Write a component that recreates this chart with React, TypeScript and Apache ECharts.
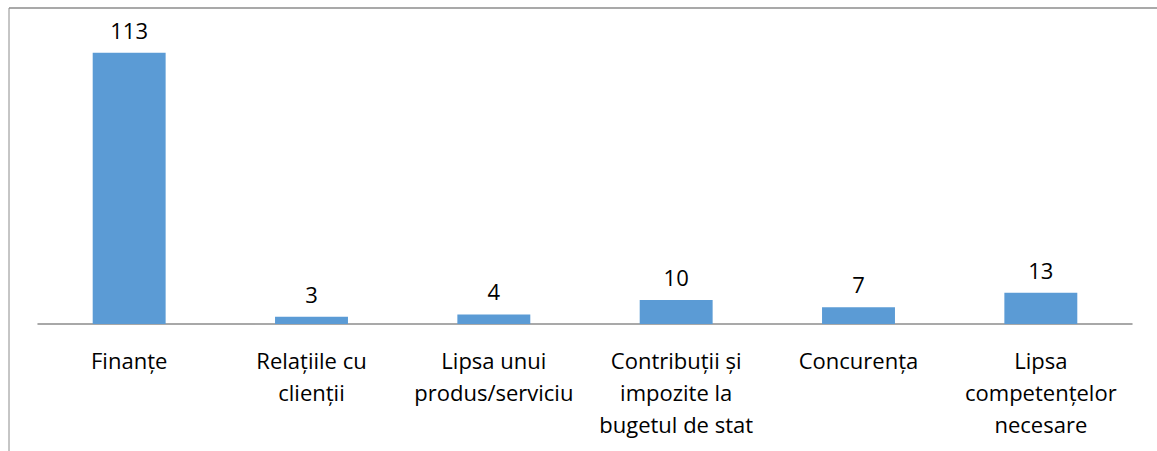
import React, { useEffect, useRef } from "react";
import * as echarts from "echarts";

const categories = [
  "Finanțe",
  "Relațiile cu\nclienții",
  "Lipsa unui\nprodus/serviciu",
  "Contribuții și\nimpozite la\nbugetul de stat",
  "Concurența",
  "Lipsa\ncompetențelor\nnecesare",
];
const values = [113, 3, 4, 10, 7, 13];

export default function App() {
  const ref = useRef<HTMLDivElement>(null);
  useEffect(() => {
    document.body.style.margin = "0";
    const chart = echarts.init(ref.current!, null, { renderer: "svg" });
    chart.setOption({
      animation: false,
      backgroundColor: "#ffffff",
      grid: { left: 38, right: 25, top: 36, bottom: 127 },
      xAxis: {
        type: "category",
        data: categories,
        axisLine: { show: true, lineStyle: { color: "#8c8c8c", width: 1.5 } },
        axisTick: { show: false },
        axisLabel: {
          interval: 0,
          margin: 20,
          color: "#000",
          fontFamily: "'Open Sans', sans-serif",
          fontSize: 22,
          lineHeight: 32,
        },
      },
      yAxis: {
        type: "value",
        min: 0,
        max: 120,
        show: false,
        splitLine: { show: false },
      },
      graphic: [
        {
          type: "line",
          shape: { x1: 9, y1: 8, x2: 9, y2: 451 },
          style: { stroke: "#8c8c8c", lineWidth: 1 },
        },
        {
          type: "line",
          shape: { x1: 9, y1: 8, x2: 1157, y2: 8 },
          style: { stroke: "#8c8c8c", lineWidth: 1.5 },
        },
      ],
      series: [
        {
          type: "bar",
          data: values,
          barWidth: "40%",
          itemStyle: { color: "#5B9BD5" },
          label: {
            show: true,
            position: "top",
            distance: 12,
            color: "#000",
            fontFamily: "'Open Sans', sans-serif",
            fontSize: 22,
          },
        },
      ],
    });
    return () => chart.dispose();
  }, []);
  return <div ref={ref} style={{ width: 1157, height: 451 }} />;
}
